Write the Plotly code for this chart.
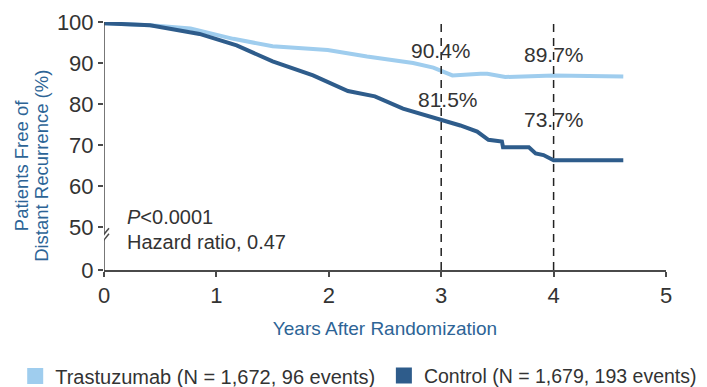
import plotly.graph_objects as go

# ---- data ----
trast_years = [0.00, 0.41, 0.77, 1.15, 1.50, 1.75, 1.99, 2.34, 2.75, 2.93, 3.10, 3.35, 3.41, 3.57, 4.00, 4.62]
trast_pct   = [99.7, 99.2, 98.4, 95.9, 94.1, 93.7, 93.2, 91.6, 90.0, 88.9, 87.0, 87.4, 87.4, 86.6, 87.0, 86.7]

ctrl_years = [0.00, 0.41, 0.85, 1.18, 1.50, 1.75, 1.86, 2.17, 2.41, 2.66, 2.99, 3.17, 3.32, 3.42, 3.54, 3.55, 3.78, 3.84, 3.91, 4.00, 4.62]
ctrl_pct   = [99.7, 99.2, 97.1, 94.3, 90.4, 88.2, 87.0, 83.2, 81.9, 78.9, 76.4, 74.8, 73.3, 71.3, 70.9, 69.5, 69.5, 68.0, 67.6, 66.3, 66.3]

landmark_years = [3, 4]
trast_landmark_labels = ["90.4%", "89.7%"]
ctrl_landmark_labels = ["81.5%", "73.7%"]

series_names = ["Trastuzumab (N = 1,672, 96 events)", "Control (N = 1,679, 193 events)"]

y_title_lines = ["Patients Free of", "Distant Recurrence (%)"]
y_tick_labels = ["0", "50", "60", "70", "80", "90", "100"]
y_tick_values = [50, 60, 70, 80, 90, 100]
x_tick_values = [0, 1, 2, 3, 4, 5]

# ---- styling ----
LIGHT = "#9fcdee"
DARK = "#2e5c8b"
TITLE_BLUE = "#2d6496"
TXT = "#333333"
AX = "#4a4a4a"
FONT = "Liberation Sans"

Y_FLOOR = 39.6   # position of the broken-axis "0"

fig = go.Figure()
fig.add_trace(go.Scatter(x=trast_years, y=trast_pct, mode="lines",
                         line=dict(color=LIGHT, width=4), showlegend=False, hoverinfo="skip"))
fig.add_trace(go.Scatter(x=ctrl_years, y=ctrl_pct, mode="lines",
                         line=dict(color=DARK, width=4), showlegend=False, hoverinfo="skip"))
# legend swatches (one legend each so they can be placed independently)
for name, col, lg in zip(series_names, [LIGHT, DARK], ["legend", "legend2"]):
    fig.add_trace(go.Scatter(x=[None], y=[None], mode="markers", name=name, legend=lg,
                             marker=dict(symbol="square", size=20, color=col)))

shapes = []
for yr in landmark_years:
    shapes.append(dict(type="line", xref="x", yref="paper", x0=yr, x1=yr, y0=0, y1=1.005,
                       line=dict(color="#222222", width=1.5, dash="8px,6px")))
# y axis line with a break
shapes.append(dict(type="line", xref="x", yref="y", x0=0, x1=0, y0=Y_FLOOR, y1=46.95,
                   line=dict(color=AX, width=1.5)))
shapes.append(dict(type="line", xref="x", yref="y", x0=0, x1=0, y0=48.3, y1=100,
                   line=dict(color=AX, width=1.5)))
for ya in [48.3, 46.95]:
    shapes.append(dict(type="line", xref="x", yref="y", xsizemode="pixel", ysizemode="pixel",
                       xanchor=0, yanchor=ya, x0=-5, x1=5, y0=-6, y1=6,
                       line=dict(color=AX, width=1.5)))

annotations = []
trast_label_pos = [(3.00, 93.1), (4.00, 92.1)]
ctrl_label_pos = [(3.06, 81.1), (4.00, 76.2)]
for (xx, yy), t in zip(trast_label_pos, trast_landmark_labels):
    annotations.append(dict(x=xx, y=yy, xref="x", yref="y", text=t, showarrow=False,
                            font=dict(family=FONT, size=21, color=TXT)))
for (xx, yy), t in zip(ctrl_label_pos, ctrl_landmark_labels):
    annotations.append(dict(x=xx, y=yy, xref="x", yref="y", text=t, showarrow=False,
                            font=dict(family=FONT, size=21, color=TXT)))
annotations.append(dict(x=0.19, y=52.6, xref="x", yref="y", xanchor="left", text="<i>P</i><0.0001",
                        showarrow=False, font=dict(family=FONT, size=20, color=TXT)))
annotations.append(dict(x=0.19, y=46.5, xref="x", yref="y", xanchor="left", text="Hazard ratio, 0.47",
                        showarrow=False, font=dict(family=FONT, size=20, color=TXT)))
for xp, line in zip([-0.1475, -0.1125], y_title_lines):
    annotations.append(dict(x=xp, y=0.419, xref="paper", yref="paper", xanchor="center",
                            yanchor="middle", text=line, textangle=-90, showarrow=False,
                            borderpad=0, font=dict(family=FONT, size=18.5, color=TITLE_BLUE)))

leg_common = dict(orientation="h", yanchor="middle", y=-0.427, xanchor="left",
                  itemclick=False, bgcolor="rgba(0,0,0,0)")

fig.update_layout(
    width=699, height=379,
    margin=dict(l=96, r=41, t=14, b=117, pad=0, autoexpand=False),
    paper_bgcolor="white", plot_bgcolor="white",
    font=dict(family=FONT, color=TXT),
    shapes=shapes, annotations=annotations,
    legend=dict(x=-0.158, font=dict(family=FONT, size=20, color=TXT), **leg_common),
    legend2=dict(x=0.498, font=dict(family=FONT, size=19.5, color=TXT), **leg_common),
    xaxis=dict(range=[0, 5], tickvals=x_tick_values, ticks="outside", ticklen=5, tickwidth=1.5,
               tickcolor=AX, showline=True, linecolor=AX, linewidth=1.5, showgrid=False,
               zeroline=False, tickfont=dict(family=FONT, size=22, color=TXT),
               title=dict(text="Years After Randomization", standoff=15,
                          font=dict(family=FONT, size=19, color=TITLE_BLUE))),
    yaxis=dict(range=[Y_FLOOR, 100], tickvals=[Y_FLOOR] + y_tick_values, ticktext=y_tick_labels,
               ticks="outside", ticklen=5, tickwidth=1.5, tickcolor=AX, showline=False,
               showgrid=False, zeroline=False, tickfont=dict(family=FONT, size=22, color=TXT)),
)

fig.write_html("out.html")
